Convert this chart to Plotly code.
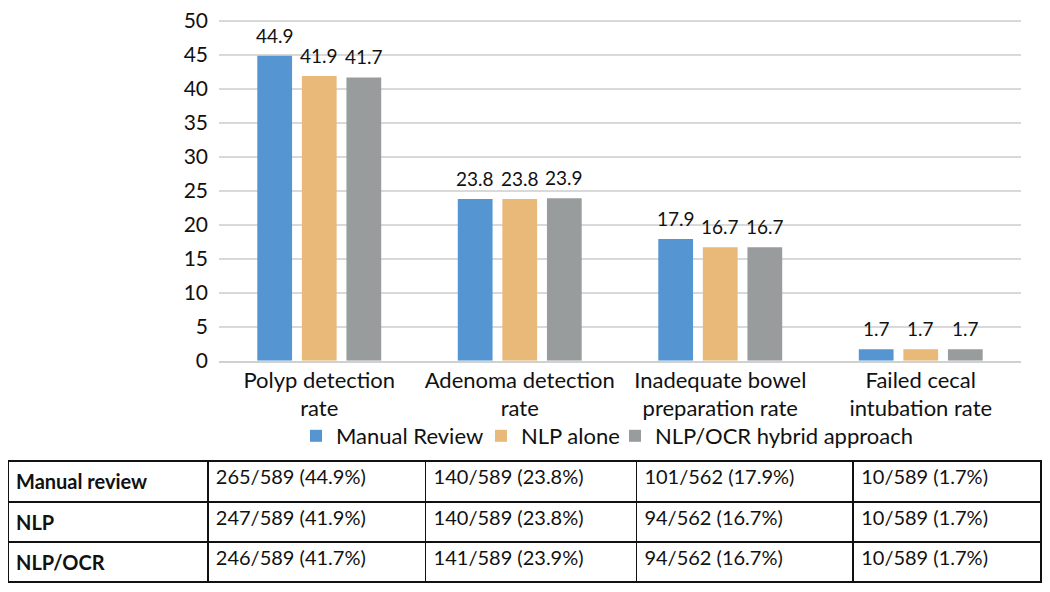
import plotly.graph_objects as go

categories = ["Polyp detection<br>rate", "Adenoma detection<br>rate",
              "Inadequate bowel<br>preparation rate", "Failed cecal<br>intubation rate"]
series_names = ["Manual Review", "NLP alone", "NLP/OCR hybrid approach"]
manual = [44.9, 23.8, 17.9, 1.7]
nlp = [41.9, 23.8, 16.7, 1.7]
hybrid = [41.7, 23.9, 16.7, 1.7]
colors = ["#5596D2", "#E9B97A", "#999C9D"]

row_labels = ["Manual review", "NLP", "NLP/OCR"]
table_manual = ["265/589 (44.9%)", "140/589 (23.8%)", "101/562 (17.9%)", "10/589 (1.7%)"]
table_nlp = ["247/589 (41.9%)", "140/589 (23.8%)", "94/562 (16.7%)", "10/589 (1.7%)"]
table_ocr = ["246/589 (41.7%)", "141/589 (23.9%)", "94/562 (16.7%)", "10/589 (1.7%)"]

FONT = "Lato"
W, H = 1042, 584  # page body margin of 8px puts the figure at (8, 8)

X0, X1 = 211, 1013          # plot area in figure pixels
Y0, Y50 = 352.7, 13.0       # pixel rows of 0 and 50
YTOP = 50.3                 # small headroom so the 50 gridline/label is kept
YTOP_PX = Y0 - (Y0 - Y50) * YTOP / 50
BARGAP = 0.333
BARGROUPGAP = 0.22
slot = (X1 - X0) / len(categories) * (1 - BARGAP) / 3

legend_names = ["legend", "legend2", "legend3"]
legend_x = [288, 473, 607]

fig = go.Figure()
for i, (name, vals, col) in enumerate(zip(series_names, [manual, nlp, hybrid], colors)):
    fig.add_trace(go.Bar(
        x=categories, y=vals, name=name, marker=dict(color=col, line=dict(width=0)),
        legend=legend_names[i], showlegend=True,
    ))
    for c, v in zip(categories, vals):
        fig.add_annotation(x=c, y=v, text=f"{v:.1f}", showarrow=False,
                           xshift=(i - 1) * slot, yshift=7, yanchor="bottom",
                           font=dict(size=19, color="#111"))

# Table: first row used as header so all rows look alike
header_vals = ["<b>" + row_labels[0] + "</b>"] + table_manual
cell_cols = [["<b>" + row_labels[1] + "</b>", "<b>" + row_labels[2] + "</b>"]]
for a, b in zip(table_nlp, table_ocr):
    cell_cols.append([a, b])

fig.add_trace(go.Table(
    domain=dict(x=[0, 1033 / W], y=[0, 1 - 453 / H]),
    columnwidth=[200, 218, 211, 217, 188],
    header=dict(values=header_vals, align="left", height=41,
                line=dict(color="#111", width=1.5), fill=dict(color="white"),
                font=dict(family=FONT, size=20, color="#111")),
    cells=dict(values=cell_cols, align="left", height=40,
               line=dict(color="#111", width=1.5), fill=dict(color="white"),
               font=dict(family=FONT, size=20, color="#111")),
))

leg_common = dict(orientation="h", y=1 - 428 / H, yanchor="middle", xanchor="left",
                  font=dict(size=22), bgcolor="rgba(0,0,0,0)", itemwidth=30)
fig.update_layout(
    width=W, height=H, showlegend=True,
    margin=dict(l=0, r=0, t=0, b=0, autoexpand=False),
    paper_bgcolor="white", plot_bgcolor="white",
    font=dict(family=FONT, size=20, color="#111"),
    barmode="group", bargap=BARGAP, bargroupgap=BARGROUPGAP,
    legend=dict(x=legend_x[0] / W, **leg_common),
    legend2=dict(x=legend_x[1] / W, **leg_common),
    legend3=dict(x=legend_x[2] / W, **leg_common),
    xaxis=dict(domain=[X0 / W, X1 / W], showline=True, linecolor="#D0D0D0", linewidth=1.5,
               ticks="", tickfont=dict(size=22), automargin=False, ticklabelstandoff=-1),
    yaxis=dict(domain=[1 - Y0 / H, 1 - YTOP_PX / H], range=[0, YTOP],
               tickvals=[0, 5, 10, 15, 20, 25, 30, 35, 40, 45, 50],
               showgrid=True, gridcolor="#D9D9D9", gridwidth=1.5, zeroline=False,
               ticks="", tickfont=dict(size=21), ticklabelstandoff=10, automargin=False,
               ticklabeloverflow="allow"),
)

fig.write_html("out.html")
